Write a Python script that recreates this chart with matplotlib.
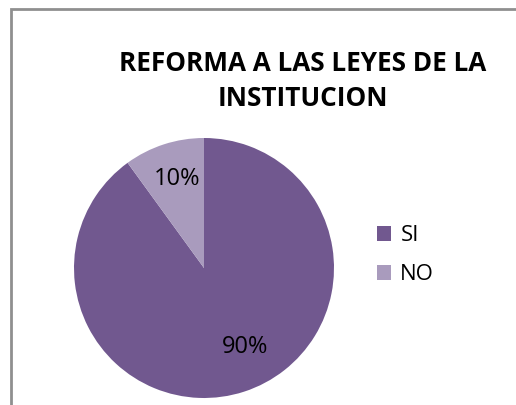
import matplotlib
matplotlib.use("Agg")
import matplotlib.pyplot as plt
from matplotlib.patches import Rectangle, Patch

categories = ["SI", "NO"]
values = [90, 10]
colors = ["#71588F", "#A99BBD"]
title = "REFORMA A LAS LEYES DE LA\nINSTITUCION"

W, H = 516, 405
fig = plt.figure(figsize=(W/100, H/100), dpi=100)
fig.patch.set_facecolor("white")
plt.rcParams['font.family'] = ['Open Sans', 'DejaVu Sans']

# frame border (only left and top visible)
fig.add_artist(Rectangle((11/W, -0.1), 1.2, (H-9)/H + 0.1, transform=fig.transFigure,
                         fill=False, edgecolor="#8f8f8f", linewidth=2.0))

ax = fig.add_axes([74/W, 7/H, 260/W, 260/H])
wedges, texts, autotexts = ax.pie(values, colors=colors, startangle=90, counterclock=False,
                                  autopct="%d%%", pctdistance=0.72,
                                  textprops=dict(fontsize=17, color="black"))
ax.set_xlim(-1, 1)
ax.set_ylim(-1, 1)
ax.set_aspect("equal")
ax.axis("off")
autotexts[0].set_position((0.315, -0.61))
autotexts[1].set_position((-0.204, 0.685))

fig.text(303/W, 1 - 81/H, title, ha="center", va="center", fontsize=18.8,
         fontweight="bold", linespacing=1.42)

handles = [Patch(facecolor=c, edgecolor="none") for c in colors]
fig.legend(handles, categories, loc="center left", bbox_to_anchor=(357/W, 1 - 255/H),
           frameon=False, fontsize=16, handlelength=0.65, handleheight=0.65,
           handletextpad=0.4, labelspacing=0.8)

fig.savefig("out.png", dpi=100)
